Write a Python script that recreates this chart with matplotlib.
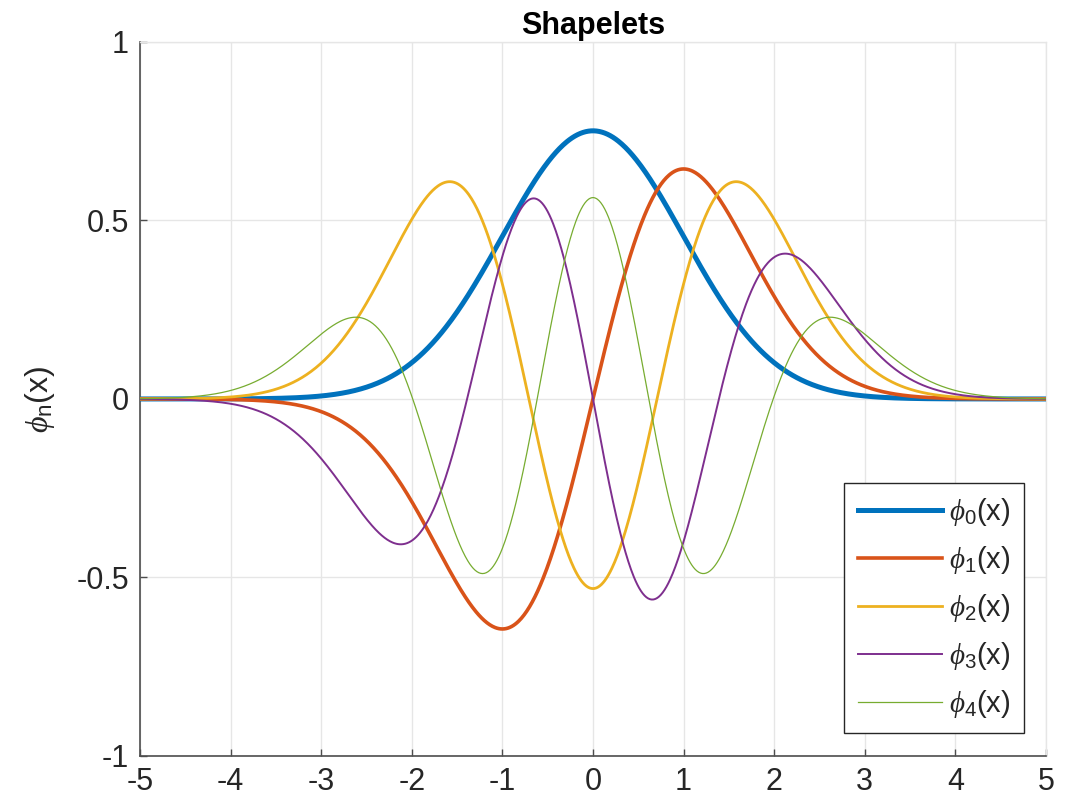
import numpy as np
import matplotlib
matplotlib.use("Agg")
import matplotlib.pyplot as plt

plt.rcParams['font.family'] = ['Liberation Sans', 'DejaVu Sans']
plt.rcParams['mathtext.fontset'] = 'custom'
plt.rcParams['mathtext.rm'] = 'Liberation Sans'
plt.rcParams['mathtext.it'] = 'Liberation Serif:italic'

# Each shapelet is a polynomial times a Gaussian envelope exp(-x^2/2).
# Polynomial coefficients in ascending powers of x.
phi0_coef = [0.7511]
phi1_coef = [0.0, 1.0622]
phi2_coef = [-0.5311, 0.0, 1.0622]
phi3_coef = [0.0, -1.367, 0.0, 0.7084]
phi4_coef = [0.564, 0.0, -1.630, 0.0, 0.3759]

series_coefs = [phi0_coef, phi1_coef, phi2_coef, phi3_coef, phi4_coef]
series_labels = [r'$\phi_{0}$(x)', r'$\phi_{1}$(x)', r'$\phi_{2}$(x)',
                 r'$\phi_{3}$(x)', r'$\phi_{4}$(x)']

x_min, x_max = -5.0, 5.0
xticks = [-5, -4, -3, -2, -1, 0, 1, 2, 3, 4, 5]
yticks = [-1, -0.5, 0, 0.5, 1]
ytick_labels = ['-1', '-0.5', '0', '0.5', '1']

colors = ['#0072BD', '#D95319', '#EDB120', '#7E2F8E', '#77AC30']
widths = [3.6, 2.6, 2.0, 1.4, 0.9]


def shapelet(coef, x):
    return np.polynomial.polynomial.polyval(x, coef) * np.exp(-x ** 2 / 2)


x = np.linspace(x_min, x_max, 1001)

fig = plt.figure(figsize=(10.66, 8.10), dpi=100)
ax = fig.add_axes([0.1313, 0.0667, 0.8499, 0.8815])

for coef, lab, c, lw in zip(series_coefs, series_labels, colors, widths):
    ax.plot(x, shapelet(coef, x), color=c, lw=lw, label=lab, zorder=3)

ax.set_xlim(x_min, x_max)
ax.set_ylim(-1, 1)
ax.set_xticks(xticks)
ax.set_xticklabels([str(t) for t in xticks])
ax.set_yticks(yticks)
ax.set_yticklabels(ytick_labels)

ax.grid(True, color='#e6e6e6', lw=1.0, zorder=0)
ax.set_axisbelow(True)
for side in ['left', 'bottom']:
    ax.spines[side].set_color('#4d4d4d')
    ax.spines[side].set_linewidth(1.2)
for side in ['top', 'right']:
    ax.spines[side].set_color('#e6e6e6')
    ax.spines[side].set_linewidth(1.0)
ax.tick_params(direction='in', length=5, width=1.0, color='#4d4d4d',
               labelsize=22, labelcolor='#262626', pad=8, top=False, right=False)

ax.set_title('Shapelets', fontsize=22, fontweight='bold', pad=6)
ax.set_ylabel(r'$\phi_{\rm n}$(x)', fontsize=23, color='#262626', labelpad=14)

leg = ax.legend(loc='lower right', bbox_to_anchor=(0.9757, 0.032), fontsize=21,
                handlelength=2.9, labelspacing=0.55, borderpad=0.45,
                handletextpad=0.25, borderaxespad=0.0, fancybox=False,
                framealpha=1, edgecolor='#262626')
leg.get_frame().set_linewidth(1.0)
for t in leg.get_texts():
    t.set_color('#262626')

fig.savefig('out.png', dpi=100)
